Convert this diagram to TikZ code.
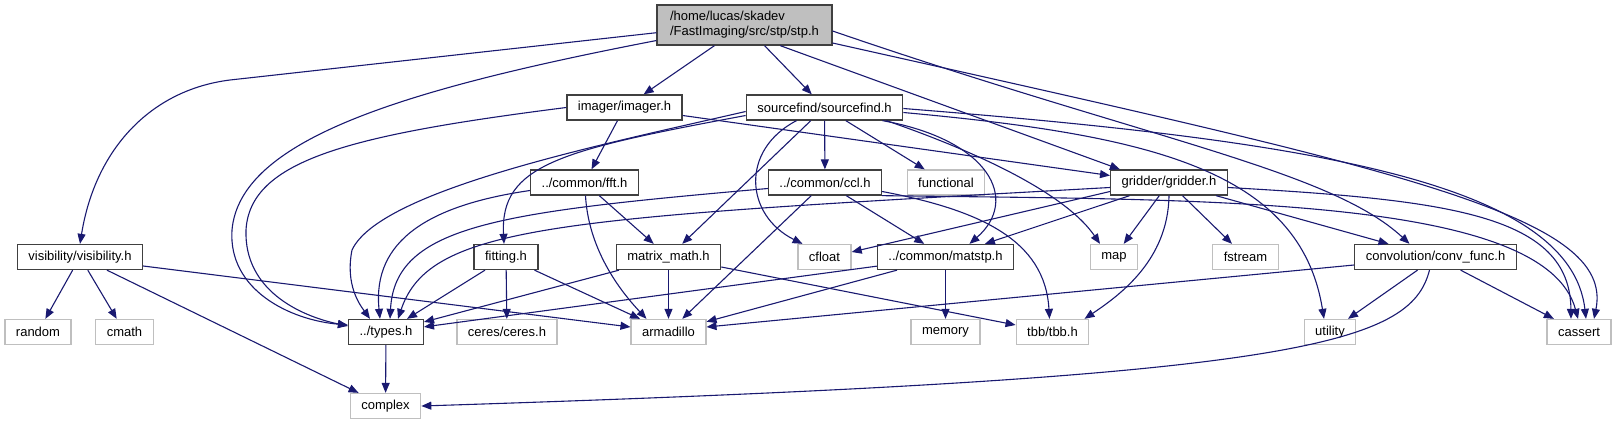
\documentclass[tikz,border=0pt]{standalone}
\usepackage{fontspec}
\setmainfont{Liberation Sans}
\usetikzlibrary{arrows.meta}
\definecolor{edgeblue}{RGB}{25,25,112}
\definecolor{boxgray}{RGB}{64,64,64}
\definecolor{extgray}{RGB}{191,191,191}
\begin{document}
\begin{tikzpicture}[x=1pt,y=-1pt,>={Triangle[length=10pt,width=8pt]},
    every node/.style={font=\fontsize{13}{15}\selectfont,inner xsep=11pt,inner ysep=0pt,minimum height=25pt,line width=1.3pt},
    file/.style={draw=boxgray,fill=white},
    ext/.style={draw=extgray,fill=white},
    dep/.style={->,draw=edgeblue,line width=1.1pt}]
    \useasboundingbox (0,0) rectangle (1617,425);

    \node[file,fill=extgray,align=left,inner xsep=13pt,minimum height=40pt] (stp) at (744.5,25) {/home/lucas/skadev\\/FastImaging/src/stp/stp.h};

    \node[file] (imager) at (624.5,107.5) {imager/imager.h};
    \node[file] (srcfind) at (824.5,107.5) {sourcefind/sourcefind.h};

    \node[file] (fft) at (584.5,182.5) {../common/fft.h};
    \node[file] (ccl) at (825,182.5) {../common/ccl.h};
    \node[ext] (functional) at (946,182.5) {functional};
    \node[file] (gridder) at (1169,182.5) {gridder/gridder.h};

    \node[file] (visib) at (80,257) {visibility/visibility.h};
    \node[file] (fitting) at (506,257) {fitting.h};
    \node[file] (mmath) at (668.5,257) {matrix\_math.h};
    \node[ext] (cfloat) at (824.5,257) {cfloat};
    \node[file] (matstp) at (945.5,257) {../common/matstp.h};
    \node[ext] (map) at (1114,257) {map};
    \node[ext] (fstream) at (1245.5,257) {fstream};
    \node[file] (convfunc) at (1435.5,257) {convolution/conv\_func.h};

    \node[ext] (random) at (38,332) {random};
    \node[ext] (cmath) at (124.5,332) {cmath};
    \node[file] (types) at (386,332) {../types.h};
    \node[ext] (ceres) at (507,332) {ceres/ceres.h};
    \node[ext] (armadillo) at (668.5,332) {armadillo};
    \node[ext] (memory) at (945.5,332) {memory};
    \node[ext] (tbb) at (1052.5,332) {tbb/tbb.h};
    \node[ext] (utility) at (1330,332) {utility};
    \node[ext] (cassert) at (1579,332) {cassert};

    \node[ext] (complex) at (385.5,406) {complex};

    % stp.h
    \draw[dep] (stp.185) -- (230,80) .. controls (150,90) and (95,150) .. (visib.north);
    \draw[dep] (stp.190) .. controls (400,90) and (240,140) .. (232,230) .. controls (228,290) and (290,320) .. ([yshift=7pt]types.west);
    \draw[dep] (stp) -- (imager);
    \draw[dep] (stp) -- (srcfind);
    \draw[dep] (stp.-30) -- (gridder.165);
    \draw[dep] ([yshift=-6pt]stp.east) .. controls (1150,140) and (1330,170) .. ([xshift=-26pt]convfunc.north);
    \draw[dep] ([yshift=-18pt]stp.east) .. controls (1400,170) and (1615,215) .. ([xshift=15pt]cassert.north);

    % imager.h
    \draw[dep] (imager.west) .. controls (350,135) and (250,160) .. (246,230) .. controls (244,290) and (300,316) .. ([yshift=6pt]types.west);
    \draw[dep] (imager) -- (fft);
    \draw[dep] ([yshift=-8pt]imager.east) -- ([yshift=7pt]gridder.west);

    % sourcefind.h
    \draw[dep] ([yshift=-4pt]srcfind.west) .. controls (600,145) and (380,190) .. (352,250) .. controls (345,285) and (360,305) .. ([xshift=-16pt]types.north);
    \draw[dep] ([yshift=-8pt]srcfind.west) .. controls (560,150) and (500,165) .. ([xshift=-2pt]fitting.north);
    \draw[dep] (srcfind) -- (mmath);
    \draw[dep] ([xshift=-28pt]srcfind.south) .. controls (740,150) and (745,215) .. ([xshift=-22pt]cfloat.north);
    \draw[dep] (srcfind) -- (ccl);
    \draw[dep] (srcfind) -- (functional);
    \draw[dep] ([xshift=58pt]srcfind.south) .. controls (990,140) and (1020,200) .. ([xshift=24pt]matstp.north);
    \draw[dep] ([xshift=62pt]srcfind.south) .. controls (1000,160) and (1070,200) .. ([xshift=-14pt]map.north);
    \draw[dep] ([yshift=-5pt]srcfind.east) .. controls (1150,135) and (1300,170) .. ([xshift=-6pt]utility.north);
    \draw[dep] ([yshift=-1pt]srcfind.east) .. controls (1300,140) and (1570,180) .. ([xshift=7pt]cassert.north);

    % common
    \draw[dep] ([yshift=-8pt]fft.west) .. controls (430,205) and (372,240) .. ([xshift=-6pt]types.north);
    \draw[dep] (fft) -- (mmath);
    \draw[dep] ([xshift=1pt]fft.south) .. controls (588,240) and (610,280) .. ([xshift=-22pt]armadillo.north);
    \draw[dep] ([yshift=-6pt]ccl.west) .. controls (500,212) and (395,225) .. ([xshift=4pt]types.north);
    \draw[dep] (ccl) -- (armadillo);
    \draw[dep] (ccl) -- (matstp);
    \draw[dep] ([yshift=-9pt]ccl.east) .. controls (980,210) and (1045,240) .. ([xshift=-3pt]tbb.north);
    \draw[dep] (ccl.south east) .. controls (1200,200) and (1545,195) .. ([xshift=-1pt]cassert.north);

    % gridder.h
    \draw[dep] ([yshift=-5pt]gridder.west) .. controls (560,218) and (430,224) .. ([xshift=12pt]types.north);
    \draw[dep] ([yshift=-9pt]gridder.west) -- ([yshift=5pt]cfloat.east);
    \draw[dep] (gridder) -- (matstp);
    \draw[dep] (gridder) -- (map);
    \draw[dep] (gridder.south) .. controls (1168,260) and (1120,295) .. ([xshift=32pt]tbb.north);
    \draw[dep] (gridder) -- (fstream);
    \draw[dep] (gridder) -- (convfunc);
    \draw[dep] ([yshift=-5pt]gridder.east) .. controls (1450,200) and (1570,215) .. ([xshift=-8pt]cassert.north);

    % third row
    \draw[dep] (visib) -- (random);
    \draw[dep] (visib) -- (cmath);
    \draw[dep] (visib) -- (complex);
    \draw[dep] ([yshift=-9pt]visib.east) -- ([yshift=5pt]armadillo.west);
    \draw[dep] (fitting) -- (types);
    \draw[dep] (fitting) -- (ceres);
    \draw[dep] (fitting) -- (armadillo);
    \draw[dep] (mmath) -- (types);
    \draw[dep] (mmath) -- (armadillo);
    \draw[dep] ([yshift=-10pt]mmath.east) -- ([yshift=7pt]tbb.west);
    \draw[dep] (matstp) -- (types);
    \draw[dep] (matstp) -- (armadillo);
    \draw[dep] (matstp) -- (memory);
    \draw[dep] ([yshift=-8pt]convfunc.west) -- ([yshift=5pt]armadillo.east);
    \draw[dep] ([xshift=-18pt]convfunc.south) -- ([xshift=18pt]utility.north);
    \draw[dep] (convfunc) -- (cassert);
    \draw[dep] ([xshift=-6pt]convfunc.south) .. controls (1410,345) and (1300,378) .. (complex.east);

    \draw[dep] (types) -- (complex);
\end{tikzpicture}
\end{document}
